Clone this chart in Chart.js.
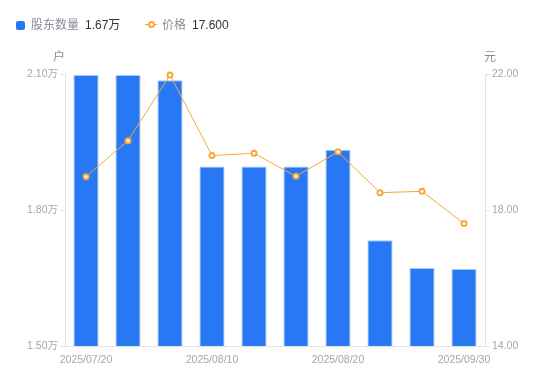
<!DOCTYPE html>
<html><head><meta charset="utf-8">
<script src="https://cdn.jsdelivr.net/npm/chart.js@4"></script>
<style>
html,body{margin:0;padding:0;background:#fff;}
#wrap{position:relative;width:550px;height:381px;}
canvas{position:absolute;left:0;top:0;}
.lg{position:absolute;top:16px;font:12px "Liberation Sans","Noto Sans CJK SC",sans-serif;color:#8a8d99;white-space:nowrap;line-height:18px;}
.lg b{font-weight:normal;color:#333;margin-left:6px;}
</style></head>
<body><div id="wrap"><canvas id="c" width="550" height="381"></canvas>
<div class="lg" style="left:16px"><span style="display:inline-block;width:9px;height:9px;border-radius:2px;background:#2878F5;vertical-align:-1px;margin-right:6px"></span><span id="n1"></span><b id="v1"></b></div>
<div class="lg" style="left:145px"><span style="display:inline-block;position:relative;width:12px;height:10px;margin-right:5px;vertical-align:-1px"><span style="position:absolute;left:0;top:4px;width:12px;height:1px;background:#F5A83A"></span><span style="position:absolute;left:3px;top:1px;width:3px;height:3px;border:2px solid #F5A83A;border-radius:50%;background:#fff"></span></span><span id="n2"></span><b id="v2"></b></div>
</div>
<script>
const categories = ["2025/07/20","2025/07/31","2025/08/05","2025/08/10","2025/08/15","2025/08/18","2025/08/20","2025/08/31","2025/09/10","2025/09/30"];
const holders = [20980,20980,20860,18960,18960,18960,19330,17330,16720,16700];
const prices = [18.98,20.04,21.97,19.60,19.67,18.99,19.71,18.51,18.55,17.60];
const leftTicks = [15000,18000,21000];
const rightTicks = [14,18,22];
const seriesNames = ["股东数量","价格"];

document.getElementById('n1').textContent = seriesNames[0];
document.getElementById('v1').textContent = (holders[holders.length-1]/10000).toFixed(2)+'万';
document.getElementById('n2').textContent = seriesNames[1];
document.getElementById('v2').textContent = prices[prices.length-1].toFixed(3);

const FONT = '"Liberation Sans","Noto Sans CJK SC",sans-serif';
const tickColor = '#a3a6b3';
const lineColor = '#e3e3e8';

const unitPlugin = {
  id:'units',
  afterDraw(chart){
    const ctx = chart.ctx, a = chart.chartArea;
    ctx.save();
    ctx.font = '12px ' + FONT;
    ctx.fillStyle = '#8a8d99';
    ctx.textBaseline = 'middle';
    ctx.textAlign = 'center';
    ctx.fillText('户', a.left - 6, 58);
    ctx.fillText('元', a.right + 5, 58);
    ctx.restore();
  }
};

new Chart(document.getElementById('c'), {
  data:{
    labels: categories,
    datasets:[
      {type:'line', label:seriesNames[1], data:prices, yAxisID:'y1', borderColor:'#F5A83A', borderWidth:1, clip:false,
       pointRadius:2.5, pointBorderWidth:2, pointBackgroundColor:'#fff', pointBorderColor:'#F5A83A', tension:0, order:0},
      {type:'bar', label:seriesNames[0], data:holders, yAxisID:'y', backgroundColor:'#2878F5',
       borderColor:'rgba(160,195,250,0.9)', borderWidth:{top:1,left:1,right:1,bottom:0}, barPercentage:0.6, categoryPercentage:1, order:1}
    ]
  },
  options:{
    responsive:false, animation:false,
    layout:{padding:{top:74,left:0,right:0,bottom:0}},
    plugins:{legend:{display:false}, tooltip:{enabled:false}},
    scales:{
      x:{offset:true, grid:{display:false}, border:{display:true,color:lineColor},
         ticks:{autoSkip:false, maxRotation:0, color:tickColor, font:{size:10.5,family:FONT}, padding:0,
           callback:(v,i)=> i%3===0 ? categories[i] : ''},
         afterFit:s=>{s.height=35;}},
      y:{position:'left', min:15000, max:21000, afterBuildTicks:s=>{s.ticks=leftTicks.map(v=>({value:v}));},
         grid:{drawOnChartArea:false, drawTicks:true, tickLength:5, color:lineColor}, border:{display:true,color:lineColor},
         ticks:{color:tickColor, font:{size:10.5,family:FONT}, padding:2, callback:v=>(v/10000).toFixed(2)+'万'},
         afterFit:s=>{s.width=65;}},
      y1:{position:'right', min:14, max:22, afterBuildTicks:s=>{s.ticks=rightTicks.map(v=>({value:v}));},
         grid:{drawOnChartArea:false, drawTicks:true, tickLength:5, color:lineColor}, border:{display:true,color:lineColor},
         ticks:{color:tickColor, font:{size:10.5,family:FONT}, padding:2, callback:v=>v.toFixed(2)},
         afterFit:s=>{s.width=65;}}
    }
  },
  plugins:[unitPlugin]
});
</script></body></html>
